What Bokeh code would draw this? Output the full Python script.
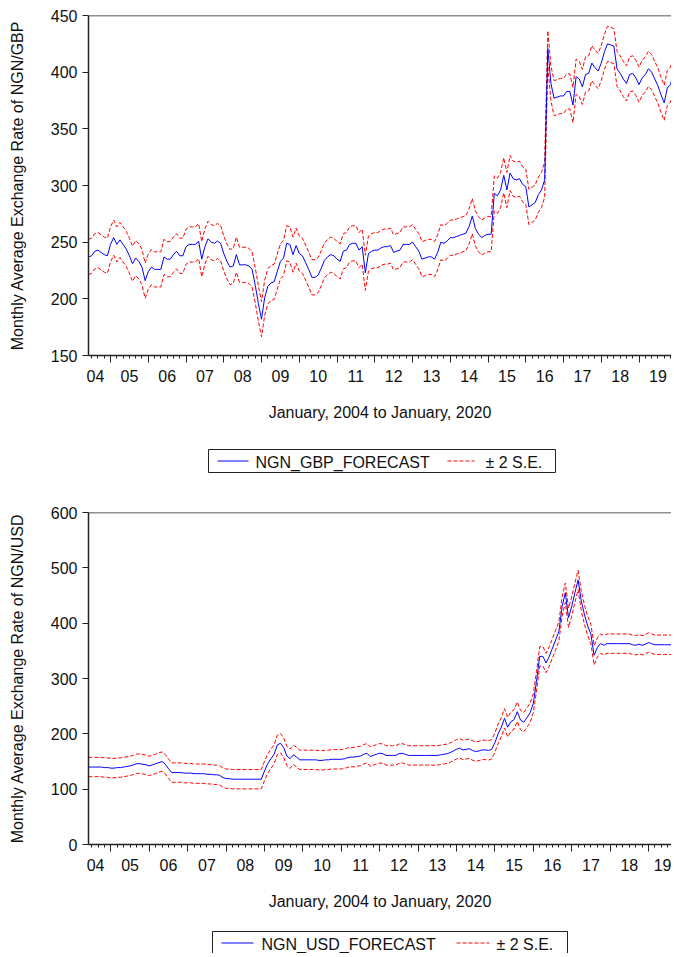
from bokeh.plotting import figure
from bokeh.models import (Range1d, LinearAxis, FixedTicker, CustomJSTickFormatter, Span)
from bokeh.core.properties import value
from bokeh.layouts import column
from bokeh.embed import file_html
from bokeh.resources import INLINE

FONT = "Liberation Sans"

# ---------------- data ----------------
first_year = 2004
first_month_index = 5          # June 2004 (months counted from January 2004)
label_years = list(range(2004, 2020))
x_axis_title = "January, 2004 to January, 2020"
band_label = "± 2 S.E."

gbp_series_name = "NGN_GBP_FORECAST"
gbp_y_title = "Monthly Average Exchange Rate of NGN/GBP"
gbp_y_ticks = [150, 200, 250, 300, 350, 400, 450]
gbp_two_se = 15.5
gbp_forecast = [
    237, 238, 242, 243, 241, 239, 238,
    248, 254, 248, 252, 248, 244, 238, 231, 236, 233, 228, 216,
    224, 228, 226, 226, 226, 237, 235, 235, 239, 242, 238, 238,
    246, 248, 248, 248, 251, 235, 246, 253, 250, 249, 251, 249,
    240, 233, 228, 229, 239, 230, 230, 230, 229, 226, 212, 196,
    182, 201, 211, 214, 215, 224, 233, 236, 249, 248, 239, 247,
    240, 238, 232, 226, 219, 219, 221, 227, 234, 237, 239, 238,
    235, 233, 242, 243, 248, 249, 249, 243, 246, 223, 240, 242,
    243, 243, 245, 246, 246, 247, 241, 242, 243, 248, 248, 248,
    250, 246, 242, 235, 236, 237, 237, 235, 241, 250, 249, 251,
    254, 254, 255, 256, 257, 258, 264, 273, 262, 257, 254, 256,
    257, 257, 293, 291, 296, 309, 296, 311, 306, 305, 306, 301,
    299, 281, 283, 285, 292, 296, 305, 421, 390, 377, 378, 379,
    379, 383, 383, 371, 396, 394, 387, 398, 399, 408, 404, 401,
    408, 418, 425, 424, 423, 403, 399, 394, 390, 398, 399, 395,
    389, 395, 398, 403, 400, 394, 388, 380, 373, 386, 389, 400,
    403,
]

usd_series_name = "NGN_USD_FORECAST"
usd_y_title = "Monthly Average Exchange Rate of NGN/USD"
usd_y_ticks = [0, 100, 200, 300, 400, 500, 600]
usd_two_se = 17.5
usd_forecast = [
    140, 140, 140, 140, 140, 139, 139,
    138, 138, 139, 139, 140, 141, 142, 144, 146, 146, 145, 144,
    142, 144, 146, 148, 150, 145, 137, 130, 130, 130, 130, 129,
    129, 129, 128, 128, 128, 128, 127, 127, 126, 126, 125, 121,
    119, 119, 118, 118, 118, 118, 118, 118, 118, 118, 118, 118,
    133, 146, 155, 163, 180, 183, 175, 160, 155, 162, 158, 153,
    153, 153, 153, 153, 153, 152, 152, 153, 153, 154, 154, 154,
    154, 155, 157, 158, 158, 159, 160, 163, 165, 159, 161, 163,
    165, 164, 161, 161, 161, 161, 164, 165, 163, 161, 161, 161,
    161, 161, 161, 161, 161, 161, 161, 162, 163, 164, 166, 169,
    172, 174, 171, 172, 173, 170, 168, 169, 171, 171, 170, 172,
    184, 200, 212, 228, 212, 222, 226, 240, 225, 221, 229, 238,
    255, 295, 340, 340, 328, 340, 355, 370, 385, 430, 455, 410,
    430, 455, 478, 440, 415, 395, 380, 342, 356, 363, 360, 363,
    363, 363, 363, 363, 363, 363, 363, 361, 360, 362, 360, 362,
    365, 363, 361, 361, 361, 361, 361, 361, 361, 361, 361, 361,
    361,
]

# ---------------- styling ----------------
PAGE_W = 671
LEFT = 88
EMPTY = "return '';"
BLUE = "#0000FF"
RED = "#FF0000"
INK = "#111111"
AXIS = "#222222"
DASH = "4 2"


def make_chart(values, two_se, y_ticks, y_title, px_per_year,
               border_top, border_bottom, height):
    x = [first_year + (first_month_index + i) / 12 for i in range(len(values))]
    upper = [v + two_se for v in values]
    lower = [v - two_se for v in values]
    frame_w = PAGE_W - LEFT
    x_start = x[0]
    x_end = x_start + frame_w / px_per_year

    p = figure(width=PAGE_W, height=height,
               x_range=Range1d(x_start, x_end),
               y_range=Range1d(y_ticks[0], y_ticks[-1]),
               x_axis_location=None, output_backend="svg",
               toolbar_location=None,
               min_border_left=LEFT, min_border_right=0,
               min_border_top=border_top, min_border_bottom=border_bottom)
    p.outline_line_color = None
    p.grid.visible = False
    p.background_fill_color = "white"
    p.border_fill_color = "white"

    p.line(x, upper, line_color=RED, line_width=1, line_dash=DASH)
    p.line(x, lower, line_color=RED, line_width=1, line_dash=DASH)
    p.line(x, values, line_color=BLUE, line_width=1)

    # frame top border
    p.add_layout(Span(location=y_ticks[-1], dimension="width",
                      line_color=AXIS, line_width=1.5))

    # y axis
    ya = p.yaxis[0]
    ya.ticker = FixedTicker(ticks=y_ticks)
    ya.axis_label = y_title
    ya.axis_label_text_font = FONT
    ya.axis_label_text_font_size = "16px"
    ya.axis_label_text_font_style = "normal"
    ya.axis_label_text_color = INK
    ya.axis_label_standoff = 22
    ya.major_label_text_font = FONT
    ya.major_label_text_font_size = "16px"
    ya.major_label_text_color = INK
    ya.major_label_standoff = 5
    ya.major_tick_out = 6
    ya.major_tick_in = 0
    ya.minor_tick_line_color = None
    ya.axis_line_width = 1.5
    ya.axis_line_color = AXIS
    ya.major_tick_line_color = AXIS

    # x axis: tick marks (year starts long, every second month short)
    year_starts = [y for y in range(first_year + 1, 2021)]
    minor = [first_year + k / 6 for k in range(0, 97)]
    tick_axis = LinearAxis(ticker=FixedTicker(ticks=year_starts, minor_ticks=minor),
                           formatter=CustomJSTickFormatter(code=EMPTY),
                           major_tick_out=7, major_tick_in=0,
                           minor_tick_out=3, minor_tick_in=0,
                           major_label_text_font_size="1px", major_label_standoff=0,
                           axis_line_width=1.5, axis_line_color=AXIS,
                           major_tick_line_color=AXIS, minor_tick_line_color=AXIS)
    p.add_layout(tick_axis, "below")

    # x axis: labels centred inside each year
    label_pos = [yr + 0.5 for yr in label_years]
    label_pos[0] = first_year + 0.6
    label_axis = LinearAxis(
        ticker=FixedTicker(ticks=label_pos),
        formatter=CustomJSTickFormatter(
            code="return String(Math.floor(tick) % 100).padStart(2, '0');"),
        axis_line_color=None, major_tick_line_color=None, minor_tick_line_color=None,
        major_tick_out=0, major_tick_in=0, minor_tick_out=0, minor_tick_in=0,
        major_label_standoff=7,
        major_label_text_font=FONT, major_label_text_font_size="16px",
        major_label_text_color=INK,
        axis_label=x_axis_title, axis_label_standoff=19,
        axis_label_text_font=FONT, axis_label_text_font_size="16px",
        axis_label_text_font_style="normal", axis_label_text_color=INK)
    p.add_layout(label_axis, "below")
    return p


def make_key(series_name, height, box_top, box_left, box_right,
             swatch1, text1_x, swatch2, text2_x):
    """Boxed key: blue solid sample + series name, red dashed sample + band label.
    The key's frame lines up with the charts' frames, so x is in page pixels."""
    k = figure(width=PAGE_W, height=height, x_range=Range1d(LEFT + 1, PAGE_W + 1),
               y_range=Range1d(height, 0), x_axis_location=None, y_axis_location=None,
               output_backend="svg", toolbar_location=None,
               min_border=0, min_border_left=LEFT, min_border_right=0,
               min_border_top=0, min_border_bottom=0)
    k.outline_line_color = None
    k.grid.visible = False
    k.background_fill_color = "white"
    k.border_fill_color = "white"
    box_h = 23
    mid = box_top + box_h / 2
    k.quad(left=[box_left], right=[box_right], top=[box_top], bottom=[box_top + box_h],
           fill_color="white", line_color=AXIS, line_width=1)
    k.line(list(swatch1), [mid, mid], line_color=BLUE, line_width=1)
    k.line(list(swatch2), [mid, mid], line_color=RED, line_width=1, line_dash=DASH)
    k.text(x=[text1_x, text2_x], y=[mid + 1, mid + 1], text=[series_name, band_label],
           text_font=value(FONT), text_font_size="16px", text_color=INK,
           text_baseline="middle", text_align="left")
    return k


p1 = make_chart(gbp_forecast, gbp_two_se, gbp_y_ticks, gbp_y_title,
                px_per_year=37.75, border_top=15, border_bottom=75, height=430)
k1 = make_key(gbp_series_name, height=45, box_top=19, box_left=209, box_right=556,
              swatch1=(218, 249), text1_x=256, swatch2=(448, 475), text2_x=486)
p2 = make_chart(usd_forecast, usd_two_se, usd_y_ticks, usd_y_title,
                px_per_year=38.4, border_top=37, border_bottom=75, height=444)
k2 = make_key(usd_series_name, height=34, box_top=12, box_left=213, box_right=568,
              swatch1=(222, 254), text1_x=262, swatch2=(457, 490), text2_x=497)

layout = column(p1, k1, p2, k2)
open("out.html", "w").write(file_html(layout, INLINE))
